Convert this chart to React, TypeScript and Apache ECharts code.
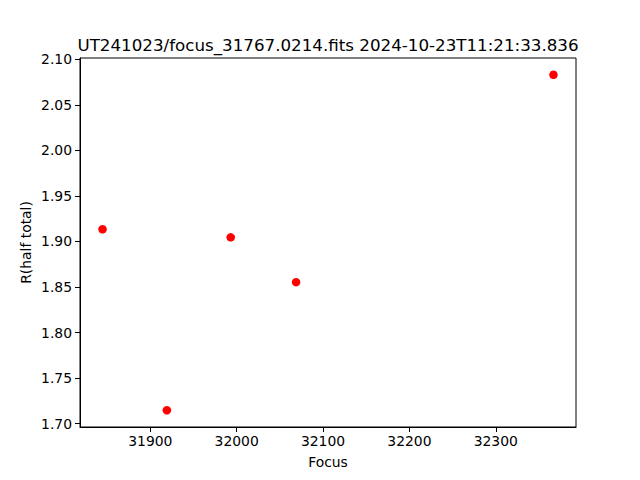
import React, { useEffect, useRef } from "react";
import * as echarts from "echarts";

const titleText = "UT241023/focus_31767.0214.fits 2024-10-23T11:21:33.836";
const focusValues = [31844.7, 31919.2, 31993.1, 32068.8, 32366.8];
const radiusValues = [1.9134, 1.7146, 1.9046, 1.8553, 2.0832];
const xTicks = [31900, 32000, 32100, 32200, 32300];
const yTicks = [1.7, 1.75, 1.8, 1.85, 1.9, 1.95, 2.0, 2.05, 2.1];

const FONT = "DejaVu Sans";

export default function App() {
  const ref = useRef<HTMLDivElement>(null);
  useEffect(() => {
    if (!ref.current) return;
    const chart = echarts.init(ref.current, null, { renderer: "svg" });
    const xs = focusValues;
    const ys = radiusValues;
    const xr = Math.max(...xs) - Math.min(...xs);
    const yr = Math.max(...ys) - Math.min(...ys);
    const xmin = Math.min(...xs) - 0.05 * xr;
    const xmax = Math.max(...xs) + 0.05 * xr;
    const ymin = Math.min(...ys) - 0.05 * yr;
    const ymax = Math.max(...ys) + 0.05 * yr;
    chart.setOption({
      animation: false,
      backgroundColor: "#ffffff",
      textStyle: { fontFamily: FONT },
      graphic: [
        {
          type: "text",
          x: 328,
          y: 45,
          style: {
            text: titleText,
            font: `16.7px "${FONT}"`,
            fill: "#000",
            textAlign: "center",
            textVerticalAlign: "middle",
          },
        },
      ],
      grid: {
        left: 80,
        right: 64,
        top: 58,
        bottom: 53,
        show: true,
        borderColor: "#000",
        borderWidth: 1,
        backgroundColor: "transparent",
      },
      xAxis: {
        type: "value",
        min: xmin,
        max: xmax,
        name: "Focus",
        nameLocation: "middle",
        nameGap: 28,
        nameTextStyle: { fontFamily: FONT, fontSize: 13.9, color: "#000" },
        axisLine: { show: true, onZero: false, lineStyle: { color: "#000", width: 1 } },
        axisTick: { show: true, length: 5, customValues: xTicks, lineStyle: { color: "#000" } },
        axisLabel: {
          customValues: xTicks,
          fontFamily: FONT,
          fontSize: 13.9,
          color: "#000",
          margin: 7,
          formatter: (v: number) => String(Math.round(v)),
        },
        splitLine: { show: false },
      },
      yAxis: {
        type: "value",
        min: ymin,
        max: ymax,
        name: "R(half total)",
        nameLocation: "middle",
        nameGap: 47,
        nameRotate: 90,
        nameMoveOverlap: false,
        nameTextStyle: { fontFamily: FONT, fontSize: 13.9, color: "#000" },
        axisLine: { show: true, onZero: false, lineStyle: { color: "#000", width: 1 } },
        axisTick: { show: true, length: 5, customValues: yTicks, lineStyle: { color: "#000" } },
        axisLabel: {
          customValues: yTicks,
          fontFamily: FONT,
          fontSize: 13.9,
          color: "#000",
          margin: 8,
          formatter: (v: number) => v.toFixed(2),
        },
        splitLine: { show: false },
      },
      series: [
        {
          type: "scatter",
          data: focusValues.map((f, i) => [f, radiusValues[i]]),
          symbol: "circle",
          symbolSize: 8.5,
          itemStyle: { color: "#ff0000", opacity: 1 },
        },
      ],
    });
    return () => chart.dispose();
  }, []);
  return <div ref={ref} style={{ width: 640, height: 480, margin: -8 }} />;
}
